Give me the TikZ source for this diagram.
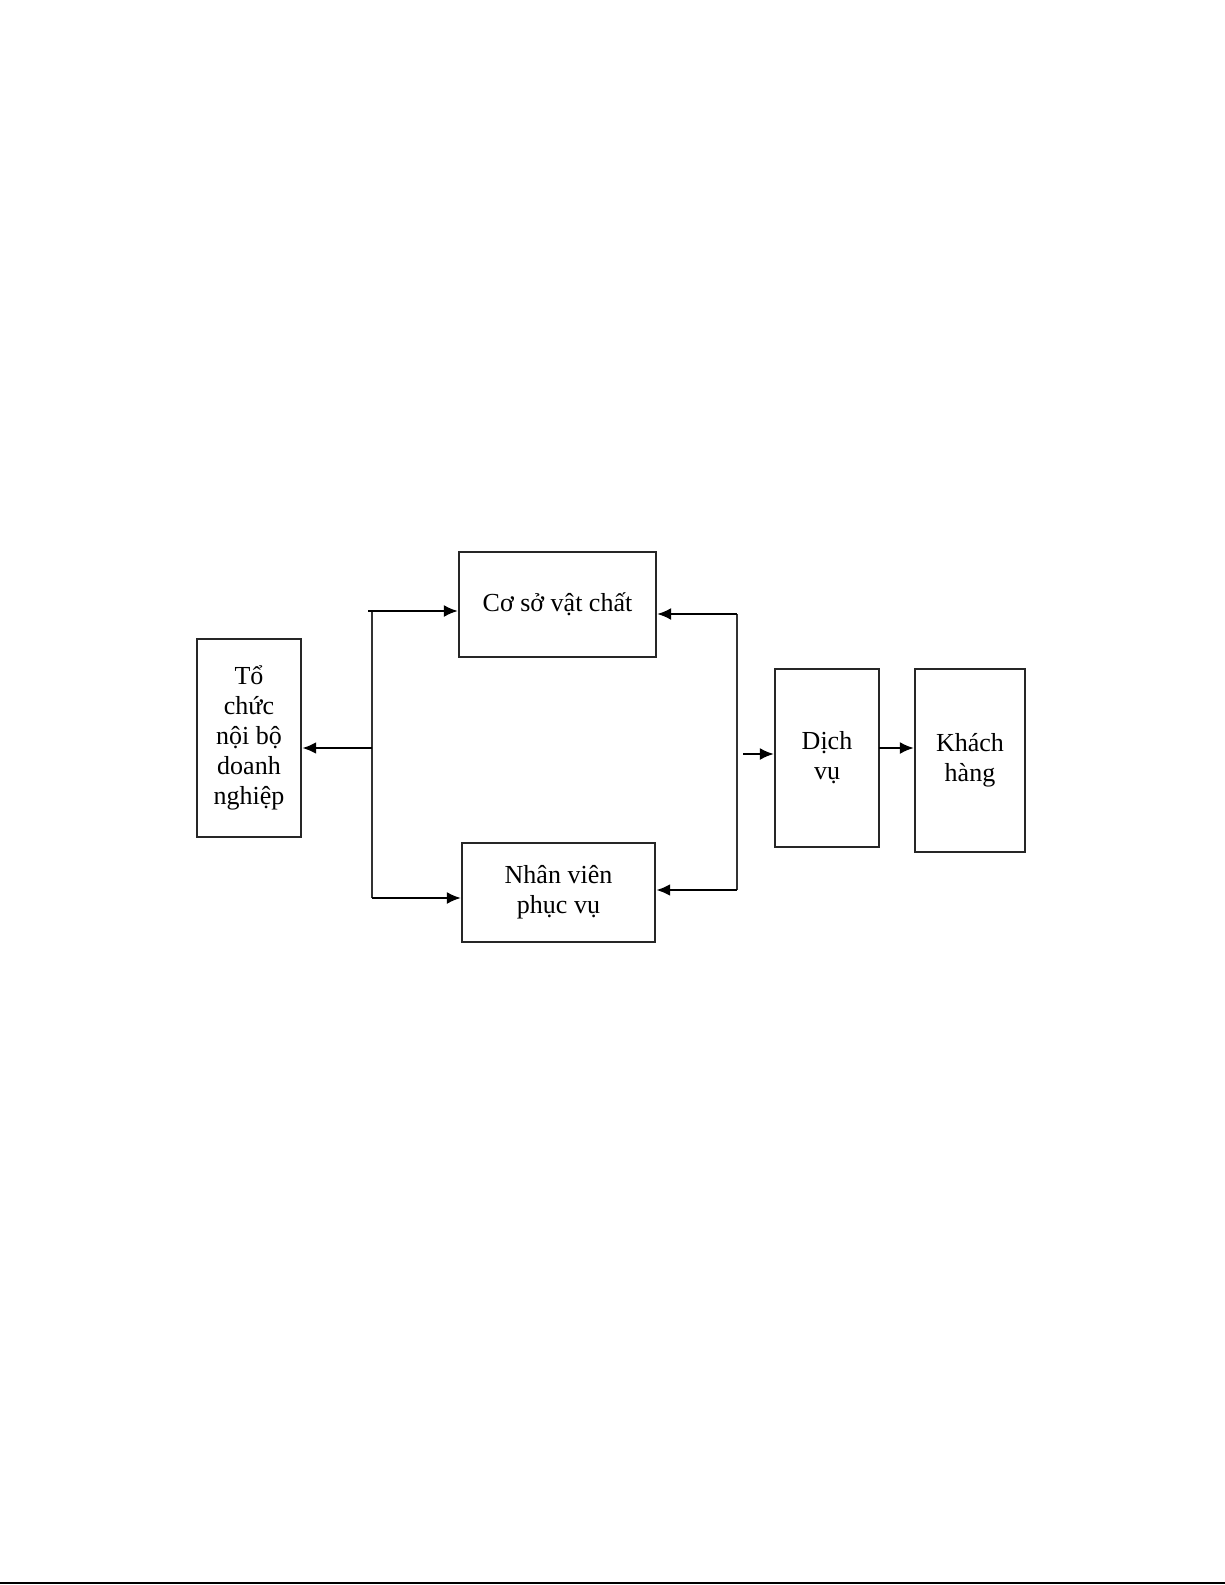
\documentclass[tikz,border=0pt]{standalone}
\usepackage{fontspec}
\setmainfont{Liberation Serif}
\usetikzlibrary{arrows.meta}
\begin{document}
\begin{tikzpicture}[x=0.5pt,y=-0.5pt,
  box/.style={draw=black!85,line width=1.1pt,inner sep=0pt,align=center,
    font=\fontsize{13pt}{15pt}\selectfont},
  arr/.style={line width=1.1pt,-{Latex[length=7pt,width=6pt]}},
  thin/.style={line width=0.6pt,black!80}]
\useasboundingbox (0,0) rectangle (1225,1585);
\node[box,minimum width=52pt,minimum height=99pt] (to) at (249,738) {Tổ\\chức\\nội bộ\\doanh\\nghiệp};
\node[box,minimum width=98.5pt,minimum height=52.5pt] (co) at (557.5,604.5) {Cơ sở vật chất};
\node[box,minimum width=96.5pt,minimum height=49.5pt] (nv) at (558.5,892.5) {Nhân viên\\phục vụ};
\node[box,minimum width=52pt,minimum height=89pt] (dv) at (827,758) {Dịch\\vụ};
\node[box,minimum width=55pt,minimum height=91.5pt] (kh) at (970,760.5) {Khách\\hàng};
% left junction
\coordinate (lt) at (372,611);
\coordinate (lm) at (372,748);
\coordinate (lb) at (372,898);
\coordinate (ltk) at (368,611);
\draw[thin] (lt) -- (lb);
\draw[arr] (ltk) -- (lt -| co.west);
\draw[arr] (lb) -- (lb -| nv.west);
\draw[arr,line width=1.4pt] (lm) -- (lm -| to.east);
% right junction
\coordinate (rt) at (737,614);
\coordinate (rb) at (737,890);
\coordinate (rin) at (743,754);
\draw[thin] (rt) -- (rb);
\draw[arr] (rt) -- (rt -| co.east);
\draw[arr,line width=1.4pt] (rb) -- (rb -| nv.east);
\draw[arr] (rin) -- (rin -| dv.west);
\coordinate (dk) at (879,748);
\draw[arr] (dk) -- (dk -| kh.west);
% bottom page rule
\coordinate (bl) at (0,1583);
\coordinate (br) at (1225,1583);
\draw[line width=1.2pt] (bl) -- (br);
\end{tikzpicture}
\end{document}
